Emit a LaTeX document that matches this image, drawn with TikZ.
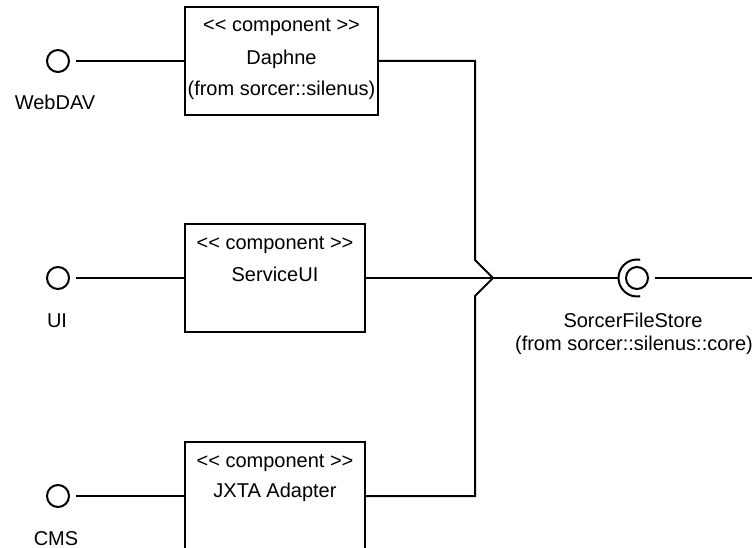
\documentclass[tikz,border=0pt]{standalone}
\usepackage{fontspec}
\newfontfamily\lsans{Liberation Sans}
\begin{document}
\begin{tikzpicture}[x=1pt,y=-1pt,
  line width=2pt,
  comp/.style={draw, rectangle, inner sep=0pt, outer sep=0pt, minimum height=108pt},
  txt/.style={font=\lsans\fontsize{20}{24}\selectfont, inner sep=0pt, anchor=base},
  iface/.style={draw, circle, inner sep=0pt, outer sep=0pt, minimum size=22pt}]
\path[use as bounding box] (0,0) rectangle (752,548);
\clip (0,0) rectangle (752,548);
% components
\node[comp, minimum width=193pt] (daphne) at (281.5,61) {};
\node[comp, minimum width=180pt] (serviceui) at (275,278) {};
\node[comp, minimum width=180pt] (jxta) at (275,496) {};
% texts
\node[txt] (daphneS) at (281.5,31.5) {<< component >>};
\node[txt] (daphneN) at (281.5,65) {Daphne};
\node[txt] (daphneF) at (281.5,96) {(from sorcer::silenus)};
\node[txt] (serviceuiS) at (275,249) {<< component >>};
\node[txt] (serviceuiN) at (275,281) {ServiceUI};
\node[txt] (jxtaS) at (275,467) {<< component >>};
\node[txt] (jxtaN) at (275,497) {JXTA Adapter};
% provided interfaces
\node[iface] (webdav) at (58,61) {};
\node[iface] (ui) at (58,278) {};
\node[iface] (cms) at (58,496) {};
\node[txt] (webdavL) at (55,110) {WebDAV};
\node[txt] (uiL) at (57,327) {UI};
\node[txt] (cmsL) at (56,545) {CMS};
\draw[shorten <=7pt] (webdav.east) -- (daphne.west);
\draw[shorten <=7pt] (ui.east) -- (serviceui.west);
\draw[shorten <=7pt] (cms.east) -- (jxta.west);
% merge
\coordinate (tip) at (493,278);
\coordinate (bendA) at (475,260);
\coordinate (bendB) at (475,296);
\draw (daphne.east) -| (bendA) -- (tip);
\draw (jxta.east) -| (bendB) -- (tip);
\draw (serviceui.east) -- (tip);
% required interface
\node[iface] (store) at (637,278) {};
\coordinate (sockL) at (618.5,278);
\draw (store.center) ++(80:18.5pt) arc[start angle=80, end angle=280, radius=18.5pt];
\draw (tip) -- (sockL);
\coordinate (outR) at (760,278);
\draw ([xshift=7pt]store.east) -- (outR);
\node[txt] (storeN) at (633,327) {SorcerFileStore};
\node[txt] (storeF) at (634,350) {(from sorcer::silenus::core)};
\end{tikzpicture}
\end{document}
